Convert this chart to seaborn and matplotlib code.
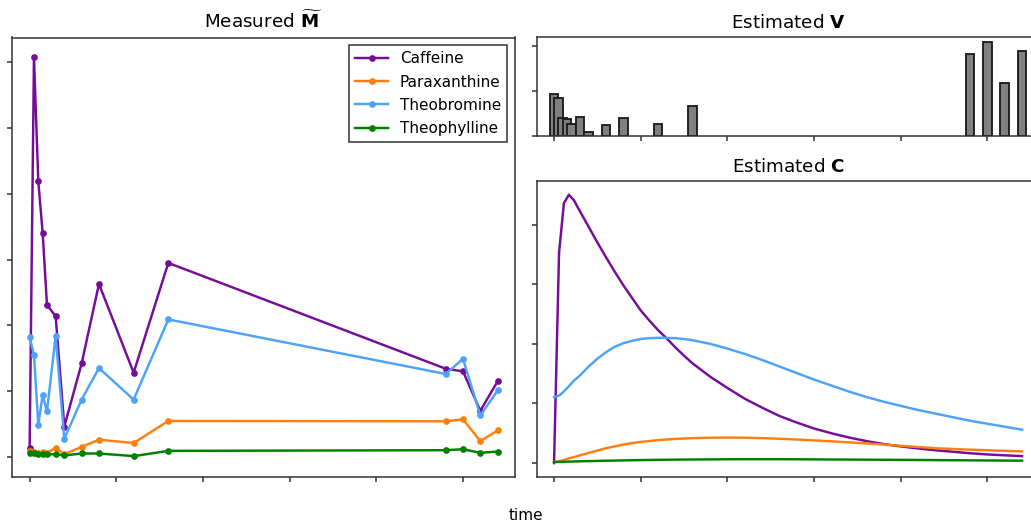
import numpy as np
import pandas as pd
import matplotlib
matplotlib.use("Agg")
import matplotlib.pyplot as plt
import seaborn as sns

# ---------------- data ----------------
names = ["Caffeine", "Paraxanthine", "Theobromine", "Theophylline"]
colors = ["#750d98", "#ff7f0e", "#4da3f7", "#008000"]

meas_time = [0, 0.25, 0.5, 0.75, 1, 1.5, 2, 3, 4, 6, 8, 24, 25, 26, 27]
meas_caffeine = [0.14, 6.08, 4.19, 3.41, 2.31, 2.14, 0.46, 1.42, 2.63, 1.28, 2.95, 1.34, 1.30, 0.70, 1.15]
meas_paraxanthine = [0.09, 0.08, 0.06, 0.07, 0.05, 0.14, 0.04, 0.15, 0.26, 0.21, 0.545, 0.54, 0.57, 0.24, 0.40]
meas_theobromine = [1.82, 1.55, 0.49, 0.94, 0.69, 1.84, 0.275, 0.87, 1.35, 0.87, 2.09, 1.26, 1.49, 0.63, 1.01]
meas_theophylline = [0.05, 0.05, 0.035, 0.035, 0.035, 0.04, 0.02, 0.05, 0.05, 0.01, 0.09, 0.10, 0.115, 0.06, 0.08]

v_time = meas_time
v_values = [0.93, 0.86, 0.40, 0.38, 0.27, 0.42, 0.08, 0.24, 0.41, 0.26, 0.67, 1.84, 2.10, 1.19, 1.90]

c_time = [0, 0.29, 0.57, 0.86, 1.14, 1.5, 2, 2.5, 3, 3.5, 4, 4.5, 5, 5.5, 6, 6.5, 7, 7.5, 8,
          9, 10, 11, 12, 13, 14, 15, 16, 17, 18, 19, 20, 21, 22, 23, 24, 25, 26, 27]
c_caffeine = [0.0, 3.53, 4.36, 4.50, 4.41, 4.22, 3.96, 3.70, 3.45, 3.21, 2.98, 2.77, 2.56, 2.39, 2.23, 2.09,
              1.94, 1.80, 1.67, 1.45, 1.26, 1.08, 0.93, 0.79, 0.68, 0.58, 0.50, 0.43, 0.37, 0.32, 0.28,
              0.245, 0.215, 0.19, 0.165, 0.145, 0.13, 0.117]
c_paraxanthine = [0.017, 0.03, 0.05, 0.08, 0.10, 0.13, 0.17, 0.21, 0.25, 0.28, 0.31, 0.335, 0.355, 0.37, 0.385,
                  0.395, 0.405, 0.412, 0.418, 0.425, 0.428, 0.425, 0.418, 0.408, 0.395, 0.38, 0.365, 0.348,
                  0.33, 0.31, 0.29, 0.27, 0.25, 0.236, 0.225, 0.215, 0.205, 0.196]
c_theobromine = [1.106, 1.13, 1.20, 1.29, 1.38, 1.47, 1.62, 1.75, 1.86, 1.95, 2.01, 2.05, 2.08, 2.095, 2.10,
                 2.10, 2.095, 2.08, 2.06, 2.00, 1.92, 1.83, 1.73, 1.62, 1.51, 1.40, 1.30, 1.20, 1.11, 1.03,
                 0.96, 0.89, 0.83, 0.77, 0.71, 0.66, 0.61, 0.56]
c_theophylline = [0.017, 0.02, 0.022, 0.025, 0.027, 0.03, 0.033, 0.036, 0.04, 0.042, 0.045, 0.048, 0.05, 0.052,
                  0.055, 0.056, 0.058, 0.059, 0.06, 0.062, 0.064, 0.065, 0.065, 0.065, 0.064, 0.062, 0.06,
                  0.059, 0.057, 0.056, 0.054, 0.052, 0.05, 0.048, 0.046, 0.044, 0.042, 0.04]

meas_series = [meas_caffeine, meas_paraxanthine, meas_theobromine, meas_theophylline]
c_series = [c_caffeine, c_paraxanthine, c_theobromine, c_theophylline]

# ---------------- figure ----------------
DPI = 110
fig = plt.figure(figsize=(1031 / DPI, 524 / DPI), dpi=DPI)
plt.rcParams["font.family"] = ["DejaVu Sans"]
edge = "0.2"

W, H = 1031, 524
def rect(x0, y0, x1, y1):
    return [x0 / W, 1 - y1 / H, (x1 - x0) / W, (y1 - y0) / H]

ax_m = fig.add_axes(rect(12.3, 37.5, 515.0, 476.5))
ax_v = fig.add_axes(rect(536.7, 37.3, 1039.4, 136.0))
ax_c = fig.add_axes(rect(536.7, 181.3, 1039.4, 476.5))

# Measured
for name, vals, col in zip(names, meas_series, colors):
    df = pd.DataFrame({"time": meas_time, "value": vals})
    sns.lineplot(data=df, x="time", y="value", ax=ax_m, color=col, label=name,
                 marker="o", markersize=4.4, markeredgewidth=0, linewidth=1.6, sort=False)
ax_m.set_title(r"Measured $\widetilde{\mathbf{M}}$", fontsize=12)
leg = ax_m.legend(loc="upper right", fancybox=False, framealpha=1, edgecolor=edge, fontsize=10,
                  labelspacing=0.54, handlelength=2.2, handletextpad=0.76)
leg.get_frame().set_linewidth(1.0)
ax_m.set_yticks([0, 1, 2, 3, 4, 5, 6])

# Estimated V
ax_v.bar(v_time, v_values, width=0.5, color="gray", edgecolor="0.1", linewidth=1.2)
ax_v.set_title(r"Estimated $\mathbf{V}$", fontsize=12)
ax_v.set_yticks([0, 1, 2])

# Estimated C
for name, vals, col in zip(names, c_series, colors):
    df = pd.DataFrame({"time": c_time, "value": vals})
    sns.lineplot(data=df, x="time", y="value", ax=ax_c, color=col, linewidth=1.6, sort=False)
ax_c.set_title(r"Estimated $\mathbf{C}$", fontsize=12)
ax_c.set_yticks([0, 1, 2, 3, 4])

for ax in (ax_m, ax_v, ax_c):
    ax.set_xlim(-1.0, 28.0)
    ax.set_xticks([0, 5, 10, 15, 20, 25])
    ax.set_xlabel("")
    ax.set_ylabel("")
    ax.tick_params(labelbottom=False, labelleft=False, color=edge, length=5 * 72 / DPI, width=1)
    for s in ax.spines.values():
        s.set_color(edge)
        s.set_linewidth(1.0)

ax_v.set_ylim(0, 2.205)
ax_c.set_ylim(-0.225, 4.725)
ax_m.set_ylim(-0.30, 6.38)

fig.text(525.5 / W, 1 - 516 / H, "time", ha="center", va="center", fontsize=10)

fig.savefig("out.png", dpi=DPI)
